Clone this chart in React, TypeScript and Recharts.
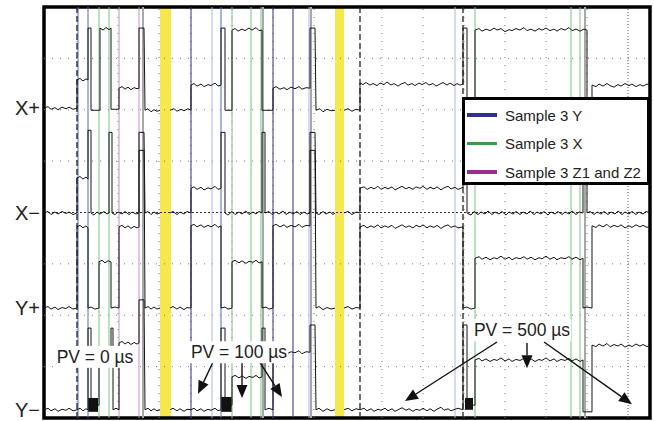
import React from 'react';
import { LineChart, Line, XAxis, YAxis, ReferenceLine, ReferenceArea, ReferenceDot, Legend } from 'recharts';

// traces: [time, level in divisions]; null marks the cut between the three captures
const xPlus = [[0,6.03],[4,6.06],[7,6.01],[11,6.04],[14,6.00],[18,6.05],[22,6.02],[25,6.05],[29,6.01],[33,6.03],[33,6.58],[36,6.61],[39,6.56],[42,6.60],[44,6.58],[44,7.59],[47,7.59],[47,5.99],[56,5.99],[56,7.59],[59,7.55],[62,7.60],[65,7.56],[67,7.59],[67,6.01],[75,6.01],[75,6.42],[78,6.45],[81,6.40],[84,6.44],[87,6.39],[90,6.43],[93,6.41],[95,6.42],[95,7.59],[100,7.59],[101,5.99],[104,6.02],[107,5.96],[110,6.00],[113,5.97],[116,5.99],[121,null],
  [126,5.99],[130,6.02],[133,5.97],[137,6.01],[140,5.98],[144,6.02],[147,5.99],[147,6.48],[150,6.51],[153,6.46],[157,6.50],[160,6.45],[164,6.49],[167,6.47],[171,6.52],[174,6.46],[177,6.48],[177,7.59],[181,7.59],[181,5.99],[188,5.99],[188,7.55],[191,7.58],[194,7.53],[198,7.57],[201,7.54],[205,7.59],[208,7.55],[212,7.60],[215,7.54],[218,7.55],[218,5.99],[229,5.99],[229,6.42],[232,6.45],[236,6.40],[240,6.43],[243,6.39],[247,6.44],[251,6.41],[255,6.45],[258,6.40],[262,6.43],[266,6.42],[266,7.59],[271,7.59],[272,5.99],[276,6.02],[279,5.96],[283,6.01],[287,5.98],[291,5.99],[296,null],
  [300,5.99],[304,6.02],[308,5.97],[312,6.01],[316,5.99],[316,6.52],[319,6.49],[322,6.53],[326,6.48],[329,6.51],[333,6.47],[336,6.52],[340,6.49],[343,6.54],[347,6.48],[350,6.51],[354,6.46],[357,6.50],[361,6.53],[364,6.48],[368,6.51],[371,6.47],[375,6.52],[378,6.49],[382,6.53],[385,6.48],[389,6.51],[392,6.46],[396,6.50],[399,6.53],[403,6.48],[406,6.52],[410,6.47],[413,6.51],[416,6.48],[419,6.50],[419,7.59],[423,7.59],[423,6.19],[431,6.19],[431,7.55],[435,7.58],[438,7.53],[442,7.57],[446,7.54],[450,7.59],[453,7.55],[457,7.58],[461,7.52],[465,7.56],[468,7.54],[472,7.58],[476,7.55],[480,7.60],[483,7.54],[487,7.57],[491,7.53],[495,7.58],[498,7.55],[502,7.59],[506,7.54],[510,7.57],[513,7.53],[517,7.58],[521,7.55],[525,7.60],[528,7.54],[532,7.57],[536,7.53],[540,7.57],[543,7.55],[543,5.99],[548,5.99],[548,6.48],[552,6.45],[555,6.50],[559,6.46],[563,6.51],[566,6.47],[570,6.44],[574,6.49],[577,6.46],[581,6.51],[585,6.47],[588,6.50],[592,6.45],[596,6.49],[599,6.46],[603,6.50],[606,6.48]];
const xMinus = [[0,3.99],[4,4.02],[7,3.96],[11,4.01],[14,3.97],[18,4.02],[22,3.98],[25,4.01],[29,3.96],[33,3.99],[33,4.67],[36,4.70],[39,4.65],[42,4.69],[44,4.65],[44,5.60],[47,5.60],[47,3.99],[50,3.95],[53,4.01],[56,3.97],[60,4.02],[63,3.97],[65,3.99],[65,5.56],[68,5.56],[68,3.99],[71,3.96],[74,4.01],[78,3.97],[81,4.02],[85,3.96],[88,4.01],[92,3.97],[95,3.99],[95,5.56],[100,5.56],[101,3.99],[104,4.02],[107,3.96],[110,4.01],[113,3.97],[116,3.99],[121,null],
  [126,3.99],[129,4.02],[133,3.96],[136,4.01],[140,3.97],[143,4.02],[147,3.99],[147,4.47],[150,4.50],[153,4.45],[157,4.49],[160,4.44],[164,4.48],[167,4.46],[171,4.51],[174,4.45],[177,4.47],[177,5.56],[181,5.56],[181,3.99],[184,3.95],[188,4.02],[191,3.96],[195,4.01],[198,3.97],[202,4.03],[205,3.96],[209,4.01],[212,3.97],[215,4.02],[218,3.99],[218,5.56],[221,5.56],[221,3.99],[225,4.02],[228,3.96],[232,4.01],[235,3.97],[239,4.03],[242,3.96],[246,4.01],[249,3.97],[253,4.02],[256,3.96],[260,4.01],[263,3.97],[266,3.99],[266,5.56],[271,5.56],[272,3.99],[275,3.96],[279,4.02],[282,3.97],[286,4.01],[289,3.96],[291,3.99],[296,null],
  [300,3.99],[304,4.02],[308,3.96],[312,4.01],[316,3.99],[316,4.47],[320,4.50],[323,4.45],[327,4.49],[330,4.46],[334,4.51],[337,4.45],[341,4.49],[344,4.46],[348,4.50],[351,4.44],[355,4.48],[358,4.51],[362,4.46],[365,4.49],[369,4.45],[372,4.50],[376,4.47],[379,4.51],[383,4.45],[386,4.49],[390,4.46],[393,4.50],[397,4.44],[400,4.48],[404,4.51],[407,4.46],[411,4.49],[414,4.45],[419,4.49],[419,5.56],[423,5.56],[423,3.99],[427,3.95],[430,4.02],[434,3.96],[437,4.01],[441,3.97],[444,4.03],[448,3.96],[451,4.01],[455,3.97],[458,4.02],[462,3.95],[465,4.01],[469,3.97],[472,4.02],[476,3.96],[479,4.01],[483,3.97],[486,4.03],[490,3.96],[493,4.01],[497,3.97],[500,4.02],[504,3.95],[507,4.01],[511,3.97],[514,4.02],[518,3.96],[521,4.01],[525,3.97],[528,4.03],[532,3.96],[535,4.01],[539,3.99],[539,5.41],[543,5.41],[543,3.99],[546,4.02],[550,3.96],[553,4.01],[557,3.97],[560,4.02],[564,3.96],[567,4.01],[571,3.97],[574,4.03],[578,3.96],[581,4.01],[585,3.97],[588,4.02],[592,3.96],[595,4.01],[599,3.97],[602,4.02],[606,3.99]];
const yPlus = [[0,2.14],[4,2.17],[7,2.12],[11,2.16],[14,2.11],[18,2.15],[22,2.13],[25,2.17],[29,2.12],[33,2.14],[33,3.72],[36,3.75],[39,3.70],[42,3.74],[44,3.70],[44,2.14],[47,2.16],[51,2.12],[55,2.14],[55,3.04],[58,3.07],[61,3.02],[64,3.06],[67,3.04],[67,2.14],[71,2.16],[75,2.14],[75,3.72],[78,3.75],[81,3.70],[84,3.74],[87,3.69],[90,3.73],[93,3.70],[95,3.72],[95,5.21],[100,5.21],[101,2.14],[104,2.17],[107,2.12],[110,2.16],[113,2.12],[116,2.14],[121,null],
  [126,2.14],[129,2.17],[133,2.12],[136,2.16],[140,2.11],[143,2.15],[147,2.14],[147,3.74],[150,3.77],[153,3.72],[157,3.76],[160,3.71],[164,3.75],[167,3.72],[171,3.77],[174,3.71],[177,3.74],[177,2.14],[181,2.16],[184,2.12],[188,2.14],[188,3.04],[191,3.07],[195,3.02],[198,3.06],[202,3.01],[205,3.05],[209,3.03],[212,3.07],[215,3.02],[218,3.04],[218,2.14],[222,2.16],[225,2.12],[229,2.14],[229,3.74],[232,3.77],[236,3.72],[240,3.76],[243,3.71],[247,3.75],[251,3.72],[255,3.77],[258,3.71],[262,3.75],[266,3.74],[266,5.21],[271,5.21],[272,2.14],[275,2.17],[279,2.11],[283,2.15],[287,2.12],[291,2.14],[296,null],
  [300,2.14],[304,2.17],[308,2.12],[312,2.15],[316,2.14],[316,3.72],[320,3.75],[323,3.70],[327,3.74],[330,3.71],[334,3.76],[337,3.70],[341,3.74],[344,3.71],[348,3.75],[351,3.69],[355,3.73],[358,3.76],[362,3.71],[365,3.74],[369,3.70],[372,3.75],[376,3.72],[379,3.76],[383,3.70],[386,3.74],[390,3.71],[393,3.75],[397,3.69],[400,3.73],[404,3.76],[407,3.71],[411,3.74],[414,3.70],[419,3.72],[419,2.14],[423,2.16],[427,2.12],[431,2.14],[431,3.11],[435,3.14],[438,3.09],[442,3.13],[446,3.08],[450,3.12],[453,3.10],[457,3.15],[461,3.09],[465,3.13],[468,3.08],[472,3.12],[476,3.10],[480,3.14],[483,3.09],[487,3.13],[491,3.08],[495,3.12],[498,3.10],[502,3.15],[506,3.09],[510,3.13],[513,3.08],[517,3.12],[521,3.10],[525,3.14],[528,3.09],[532,3.13],[536,3.08],[539,3.11],[539,2.14],[543,2.16],[548,2.14],[548,3.74],[552,3.71],[555,3.76],[559,3.72],[563,3.77],[566,3.71],[570,3.75],[574,3.72],[577,3.76],[581,3.70],[585,3.74],[588,3.71],[592,3.76],[596,3.72],[599,3.75],[603,3.71],[606,3.74]];
const yMinus = [[0,0.16],[4,0.19],[7,0.14],[11,0.18],[14,0.13],[18,0.17],[22,0.15],[25,0.19],[29,0.14],[33,0.16],[36,0.19],[39,0.14],[42,0.18],[44,0.16],[44,1.75],[47,1.75],[47,0.25],[55,0.25],[55,1.32],[58,1.35],[61,1.30],[64,1.34],[67,1.32],[67,1.75],[69,1.75],[69,0.16],[72,0.19],[75,0.16],[75,1.46],[78,1.49],[81,1.44],[84,1.48],[87,1.43],[90,1.47],[93,1.44],[95,1.46],[95,2.30],[100,2.30],[101,0.16],[104,0.19],[107,0.14],[110,0.18],[113,0.14],[116,0.16],[121,null],
  [126,0.16],[129,0.19],[133,0.14],[136,0.18],[140,0.13],[143,0.17],[147,0.16],[150,0.19],[153,0.14],[157,0.18],[160,0.13],[164,0.17],[167,0.15],[171,0.19],[174,0.14],[177,0.16],[177,1.75],[181,1.75],[181,0.25],[188,0.25],[188,0.80],[191,0.83],[195,0.78],[198,0.82],[202,0.77],[205,0.81],[209,0.79],[212,0.83],[215,0.78],[218,0.80],[218,1.75],[221,1.75],[221,0.16],[225,0.19],[229,0.16],[229,1.28],[232,1.31],[236,1.26],[240,1.30],[243,1.25],[247,1.29],[251,1.27],[255,1.31],[258,1.25],[262,1.29],[266,1.28],[266,1.81],[271,1.81],[272,0.16],[275,0.19],[279,0.13],[283,0.18],[287,0.14],[291,0.16],[296,null],
  [300,0.16],[304,0.19],[308,0.14],[312,0.18],[316,0.16],[320,0.19],[323,0.14],[327,0.18],[330,0.13],[334,0.17],[337,0.15],[341,0.19],[344,0.14],[348,0.18],[351,0.13],[355,0.17],[358,0.20],[362,0.15],[365,0.18],[369,0.13],[372,0.17],[376,0.15],[379,0.19],[383,0.14],[386,0.18],[390,0.13],[393,0.17],[397,0.21],[400,0.15],[404,0.18],[407,0.14],[411,0.17],[414,0.19],[419,0.16],[419,1.81],[423,1.81],[423,0.25],[431,0.25],[431,1.13],[435,1.16],[438,1.11],[442,1.15],[446,1.10],[450,1.14],[453,1.12],[457,1.17],[461,1.11],[465,1.15],[468,1.10],[472,1.14],[476,1.12],[480,1.16],[483,1.11],[487,1.15],[491,1.10],[495,1.14],[498,1.12],[502,1.17],[506,1.11],[510,1.15],[513,1.10],[517,1.14],[521,1.12],[525,1.16],[528,1.11],[532,1.15],[536,1.10],[539,1.13],[539,0.12],[548,0.12],[548,1.42],[552,1.39],[555,1.44],[559,1.40],[563,1.45],[566,1.39],[570,1.43],[574,1.40],[577,1.44],[581,1.38],[585,1.42],[588,1.39],[592,1.44],[596,1.40],[599,1.43],[603,1.39],[606,1.42]];

const channelTicks = [6.03, 3.99, 2.14, 0.16];
const channelNames = ['X+', 'X\u2212', 'Y+', 'Y\u2212'];

const gridRows = [1, 2, 3, 5, 6, 7];
const gridCols = [33, 74, 115, 147, 188, 229, 270, 338, 379, 420, 461, 502, 543];

// sampling markers
const sampleYDark = [147, 229, 249];
const sampleYMid = [34, 44, 177];
const sampleYLight = [168, 265, 411];
const sampleX = [55, 65, 188, 207, 217, 431, 527, 536];
const sampleZ = [75, 95];
const captureStarts = [33, 316, 419];
const settleEdges = [99, 219, 267, 541];
const cutBands = [[116, 127], [291, 300]];
const bursts = [[44, 54, 0.12, 0.39], [177, 188, 0.12, 0.41], [421, 429, 0.16, 0.39]];

const pvLabels = [
  { text: 'PV = 0 \u00b5s', t: 51, v: 1.19 },
  { text: 'PV = 100 \u00b5s', t: 195, v: 1.28 },
  { text: 'PV = 500 \u00b5s', t: 478, v: 1.71 },
];
const pvArrows = [
  [170, 1.13, 154, 0.47],
  [198, 1.13, 198, 0.39],
  [213, 1.17, 238, 0.41],
  [453, 1.48, 361, 0.33],
  [483, 1.46, 483, 0.97],
  [500, 1.48, 588, 0.27],
];

const legendItems = ['Sample 3 Y', 'Sample 3 X', 'Sample 3 Z1 and Z2'];
const legendColors = ['#2e3192', '#3a9c48', '#992e8f'];

const toPts = (a: any[]) => a.map(([t, v]) => ({ t, v }));

const Arrow = (p: any) => {
  const { x1, y1, x2, y2 } = p;
  const dx = x2 - x1;
  const dy = y2 - y1;
  const len = Math.hypot(dx, dy) || 1;
  const ux = dx / len;
  const uy = dy / len;
  const bx = x2 - ux * 13;
  const by = y2 - uy * 13;
  const pts = `${x2},${y2} ${bx - uy * 5.5},${by + ux * 5.5} ${bx + uy * 5.5},${by - ux * 5.5}`;
  return (
    <g>
      <line x1={x1} y1={y1} x2={bx} y2={by} stroke="#111" strokeWidth={1.4} />
      <polygon points={pts} fill="#111" />
    </g>
  );
};

const tag = (text: string) => (p: any) => {
  const w = text.length * 8.4 + 6;
  return (
    <g>
      <rect x={p.cx - w / 2} y={p.cy - 11} width={w} height={22} fill="#fff" />
      <text x={p.cx} y={p.cy} textAnchor="middle" dominantBaseline="central" fontSize={17.5} fill="#222">
        {text}
      </text>
    </g>
  );
};

const renderLegend = () => (
  <div style={{ position: 'relative', width: 188, height: 88, border: '3px solid #000', boxSizing: 'border-box', background: '#fff' }}>
    {legendItems.map((name, i) => (
      <div key={name} style={{ position: 'absolute', left: 2, top: 5 + i * 28.5, height: 20, display: 'flex', alignItems: 'center' }}>
        <div style={{ width: 30, height: 3.5, background: legendColors[i] }} />
        <span style={{ marginLeft: 8, fontSize: 15, color: '#222', whiteSpace: 'nowrap' }}>{name}</span>
      </div>
    ))}
  </div>
);

const vLines = (xs: number[], stroke: string, width = 1, dash?: string) =>
  xs.map((x) => (
    <ReferenceLine key={`${stroke}-${x}`} x={x} stroke={stroke} strokeWidth={width} strokeDasharray={dash} />
  ));

export default function App() {
  return (
    <div style={{ position: 'absolute', left: 0, top: 0, fontFamily: '"Liberation Sans", Arial, sans-serif' }}>
      <LineChart width={654} height={421} margin={{ top: 7, right: 4, bottom: 3, left: 0 }}>
        <XAxis dataKey="t" type="number" domain={[0, 606]} hide />
        <YAxis
          type="number"
          domain={[0, 8]}
          ticks={channelTicks}
          interval={0}
          tickFormatter={(v: number) => channelNames[channelTicks.indexOf(v)] ?? ''}
          width={44}
          axisLine={false}
          tickLine={false}
          tickSize={0}
          tickMargin={4}
          tick={{ fontSize: 20, fill: '#222' }}
        />
        {gridRows.map((r) => (
          <ReferenceLine key={`row-${r}`} y={r} stroke="#777" strokeDasharray="1 7" />
        ))}
        {vLines(gridCols, '#777', 1, '1 7')}
        <ReferenceLine y={4} stroke="#333" strokeDasharray="2 2" />
        <ReferenceLine x={584} stroke="#555" strokeDasharray="1 2" />
        {vLines(sampleYLight, '#a9b8e2')}
        {vLines(sampleYMid, '#4f6fc0')}
        {vLines(sampleYDark, '#2c2f8a')}
        {vLines(sampleX, '#7cc480')}
        {vLines(sampleZ, '#c98bc9')}
        {vLines(settleEdges, '#a8a8a8', 2)}
        {vLines(captureStarts, '#222', 1.3, '6 3')}
        {[xPlus, xMinus, yPlus, yMinus].map((tr, i) => (
          <Line
            key={channelNames[i]}
            data={toPts(tr)}
            dataKey="v"
            type="linear"
            stroke="#151515"
            strokeWidth={1}
            dot={false}
            activeDot={false}
            connectNulls={false}
            isAnimationActive={false}
          />
        ))}
        {bursts.map(([a, b, lo, hi]) => (
          <ReferenceArea key={`b-${a}`} x1={a} x2={b} y1={lo} y2={hi} fill="#111" fillOpacity={1} stroke="none" />
        ))}
        {cutBands.map(([a, b]) => (
          <ReferenceArea key={`c-${a}`} x1={a} x2={b} y1={0} y2={8} fill="#f4e84c" fillOpacity={1} stroke="none" />
        ))}
        {pvArrows.map(([a, b, c, d], i) => (
          <ReferenceLine key={`a-${i}`} segment={[{ x: a, y: b }, { x: c, y: d }]} shape={Arrow} />
        ))}
        {pvLabels.map((l) => (
          <ReferenceDot key={l.text} x={l.t} y={l.v} r={0} shape={tag(l.text)} />
        ))}
        <ReferenceArea x1={0} x2={606} y1={0} y2={8} fill="none" stroke="#000" strokeWidth={3.5} />
        <Legend
          layout="horizontal"
          verticalAlign="middle"
          align="center"
          content={renderLegend}
          wrapperStyle={{ left: 462, top: 97, width: 188, height: 88 }}
        />
      </LineChart>
    </div>
  );
}
